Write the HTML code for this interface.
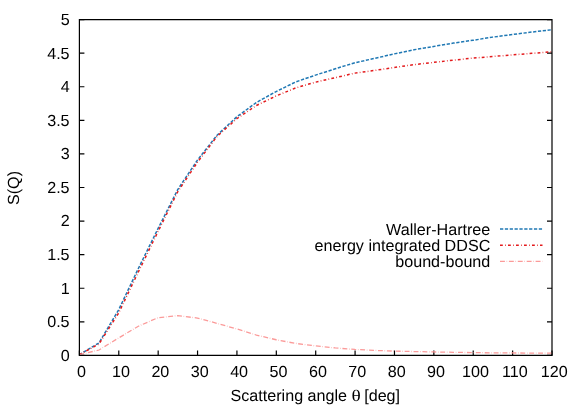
<!DOCTYPE html>
<html><head><meta charset="utf-8"><title>S(Q)</title>
<style>
html,body{margin:0;padding:0;background:#fff;}
body{width:581px;height:407px;overflow:hidden;}
svg{display:block;will-change:transform;}
text{font-family:"Liberation Sans",sans-serif;font-size:16.14px;fill:#000;text-rendering:geometricPrecision;}
.sym{font-family:"Liberation Serif",serif;}
</style></head><body>
<svg width="581" height="407" viewBox="0 0 581 407">
<rect x="0" y="0" width="581" height="407" fill="#fff"/>
<path d="M79.40,355.40h5.00 M552.00,355.40h-5.00 M79.40,321.82h5.00 M552.00,321.82h-5.00 M79.40,288.24h5.00 M552.00,288.24h-5.00 M79.40,254.66h5.00 M552.00,254.66h-5.00 M79.40,221.08h5.00 M552.00,221.08h-5.00 M79.40,187.50h5.00 M552.00,187.50h-5.00 M79.40,153.92h5.00 M552.00,153.92h-5.00 M79.40,120.34h5.00 M552.00,120.34h-5.00 M79.40,86.76h5.00 M552.00,86.76h-5.00 M79.40,53.18h5.00 M552.00,53.18h-5.00 M79.40,19.60h5.00 M552.00,19.60h-5.00 M79.40,355.40v-5.00 M118.78,355.40v-5.00 M158.17,355.40v-5.00 M197.55,355.40v-5.00 M236.93,355.40v-5.00 M276.32,355.40v-5.00 M315.70,355.40v-5.00 M355.08,355.40v-5.00 M394.47,355.40v-5.00 M433.85,355.40v-5.00 M473.23,355.40v-5.00 M512.62,355.40v-5.00 M552.00,355.40v-5.00" stroke="#000" stroke-width="1.2" fill="none"/>
<polyline points="79.30,354.70 98.98,342.90 118.67,309.78 138.35,268.49 158.04,228.53 177.72,189.58 197.41,160.15 217.09,135.14 236.78,116.84 256.46,102.43 276.15,91.57 295.83,81.85 315.52,75.14 335.20,68.77 354.89,62.74 374.57,58.38 394.26,53.89 413.94,49.80 433.63,46.45 453.31,43.10 473.00,40.28 492.69,37.13 512.37,34.52 532.05,32.04 551.74,29.76" fill="none" stroke="#1f78b4" stroke-width="1.5" stroke-dasharray="3.25 1.6"/>
<polyline points="79.30,354.70 98.98,343.97 118.67,312.93 138.35,271.91 158.04,231.48 177.72,191.79 197.41,162.30 217.09,136.35 236.78,118.72 256.46,105.45 276.15,95.93 295.83,87.88 315.52,82.18 335.20,77.69 354.89,73.13 374.57,70.45 394.26,67.50 413.94,64.62 433.63,62.41 453.31,60.13 473.00,58.12 492.69,56.51 512.37,54.90 532.05,53.36 551.74,51.81" fill="none" stroke="#e31a1c" stroke-width="1.5" stroke-dasharray="2.8 2.25 0.7 2.25"/>
<polyline points="79.30,354.70 98.98,350.01 118.67,337.94 138.35,326.21 158.04,317.69 177.72,315.68 197.41,318.03 217.09,323.39 236.78,328.89 256.46,335.06 276.15,339.75 295.83,343.44 315.52,345.92 335.20,347.93 354.89,349.47 374.57,350.41 394.26,351.08 413.94,351.55 433.63,351.95 453.31,352.29 473.00,352.62 492.69,352.82 512.37,352.96 532.05,353.09 551.74,353.16" fill="none" stroke="#fb9a99" stroke-width="1.3" stroke-dasharray="4.9 1.75 0.5 1.75"/>
<path d="M79.40,19.60H552.00V355.40H79.40Z" stroke="#000" stroke-width="1.2" fill="none"/>
<text x="69.6" y="360.80" text-anchor="end">0</text>
<text x="69.6" y="327.22" text-anchor="end">0.5</text>
<text x="69.6" y="293.64" text-anchor="end">1</text>
<text x="69.6" y="260.06" text-anchor="end">1.5</text>
<text x="69.6" y="226.48" text-anchor="end">2</text>
<text x="69.6" y="192.90" text-anchor="end">2.5</text>
<text x="69.6" y="159.32" text-anchor="end">3</text>
<text x="69.6" y="125.74" text-anchor="end">3.5</text>
<text x="69.6" y="92.16" text-anchor="end">4</text>
<text x="69.6" y="58.58" text-anchor="end">4.5</text>
<text x="69.6" y="25.00" text-anchor="end">5</text>
<text x="81.60" y="376.5" text-anchor="middle">0</text>
<text x="120.98" y="376.5" text-anchor="middle">10</text>
<text x="160.37" y="376.5" text-anchor="middle">20</text>
<text x="199.75" y="376.5" text-anchor="middle">30</text>
<text x="239.13" y="376.5" text-anchor="middle">40</text>
<text x="278.52" y="376.5" text-anchor="middle">50</text>
<text x="317.90" y="376.5" text-anchor="middle">60</text>
<text x="357.28" y="376.5" text-anchor="middle">70</text>
<text x="396.67" y="376.5" text-anchor="middle">80</text>
<text x="436.05" y="376.5" text-anchor="middle">90</text>
<text x="475.43" y="376.5" text-anchor="middle">100</text>
<text x="514.82" y="376.5" text-anchor="middle">110</text>
<text x="554.20" y="376.5" text-anchor="middle">120</text>
<text x="230.5" y="401">Scattering angle</text>
<text transform="translate(351.5,401) scale(1.2,1)" class="sym">θ</text>
<text x="364.2" y="401">[deg]</text>
<text transform="translate(18.8,188.0) rotate(-90)" text-anchor="middle">S(Q)</text>
<text x="490.3" y="234.5" text-anchor="end">Waller-Hartree</text>
<text x="490.3" y="251" text-anchor="end">energy integrated DDSC</text>
<text x="490.3" y="267.2" text-anchor="end">bound-bound</text>
<path d="M500,229H542.5" stroke="#1f78b4" stroke-width="1.5" stroke-dasharray="3.25 1.6" fill="none"/>
<path d="M500,245.2H542.5" stroke="#e31a1c" stroke-width="1.5" stroke-dasharray="2.8 2.25 0.7 2.25" fill="none"/>
<path d="M500,261.3H542.5" stroke="#fb9a99" stroke-width="1.3" stroke-dasharray="4.9 1.75 0.5 1.75" fill="none"/>
</svg>
</body></html>
